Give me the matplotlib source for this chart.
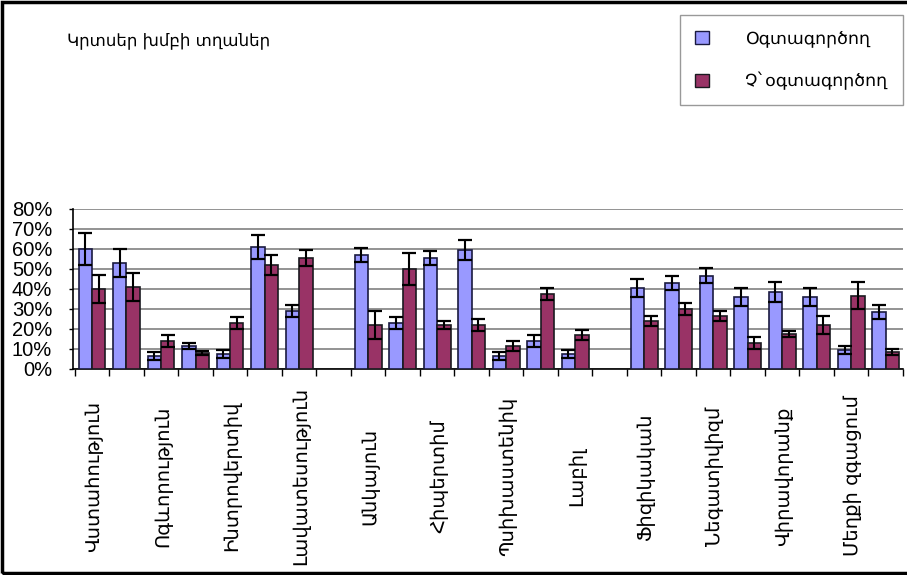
import numpy as np
import matplotlib
matplotlib.use("Agg")
import matplotlib.pyplot as plt
from matplotlib.patches import Rectangle, Patch
from matplotlib.transforms import blended_transform_factory

# data (percent), 24 category slots, nan = empty slot between blocks
users = [60, 53, 6.5, 11.5, 7.5, 61, 29, np.nan,
         57, 23, 55.5, 59.7, 6.3, 13.8, 7.7, np.nan,
         40.5, 43, 46.7, 36, 38.5, 36, 9.7, 28.5]
users_err = [8, 7, 2, 1.5, 2, 6, 3, np.nan,
             3.5, 3, 3.5, 5, 2, 3, 2, np.nan,
             4.5, 3.7, 3.8, 4.5, 4.8, 4.5, 2, 3.7]
nonusers = [40, 41, 13.8, 8, 23, 52, 55.5, np.nan,
            22, 50, 22, 22, 11.3, 37.7, 16.8, np.nan,
            24, 30, 26.5, 13, 17.5, 22, 36.7, 8.5]
nonusers_err = [7, 7, 3, 1, 3, 5, 4, np.nan,
                7, 8, 2, 3, 2.5, 3, 2.5, np.nan,
                2.5, 3, 2.7, 3, 1.7, 4.5, 6.7, 1.7]

# only every second slot carries a label in the chart
labels = ["Վստահություն", "Ոգևորություն", "Ինտրովերտիվ", "Լավատեսություն",
          "Անկայուն", "Հիպերտիմ", "Պսիխաստենիկ", "Լաբիլ",
          "Ֆիզիկական", "Նեգատիվիզմ", "Վիրավորանք", "Մեղքի զգացում"]
yticks = [0, 10, 20, 30, 40, 50, 60, 70, 80]

title = "Կրտսեր խմբի տղաներ"
series_names = ["Օգտագործող", "Չ`օգտագործող"]

c_blue = "#9999ff"
c_red = "#993366"

fig = plt.figure(figsize=(9.07, 5.75), dpi=100)
ax = fig.add_axes([73 / 907, 1 - 369 / 575, 830 / 907, 160 / 575])

x = np.arange(len(users))
w = 0.39
errkw = dict(ecolor="black", elinewidth=1.5, capsize=4.7, capthick=1.6)
ax.bar(x - w / 2, users, w, yerr=users_err, color=c_blue, edgecolor="#1a1a40",
       linewidth=1.2, error_kw=errkw, zorder=3)
ax.bar(x + w / 2, nonusers, w, yerr=nonusers_err, color=c_red, edgecolor="#1a1a20",
       linewidth=1.2, error_kw=errkw, zorder=3)

ax.set_xlim(-0.55, len(users) - 0.5)
ax.set_ylim(0, 80)
ax.set_yticks(yticks)
ax.set_yticklabels([f"{v}%" for v in yticks], fontsize=14.5, family="Liberation Sans")
ax.yaxis.grid(True, color="#808080", linewidth=1.2, zorder=0)
ax.set_axisbelow(True)
ax.set_xticks(np.arange(len(users) + 1) - 0.5)
ax.set_xticklabels([])
ax.tick_params(axis="x", length=5, width=1, direction="out")
ax.tick_params(axis="y", length=3, width=1, direction="out", pad=12)
for s in ["top", "right"]:
    ax.spines[s].set_visible(False)
ax.spines["left"].set_linewidth(1.2)
ax.spines["bottom"].set_linewidth(1.2)

trans = blended_transform_factory(ax.transData, fig.transFigure)
for i, lab in enumerate(labels):
    ax.text(2 * i + 0.05, 1 - 476 / 575, lab, transform=trans, rotation=90,
            ha="center", va="center", fontsize=14, family="DejaVu Sans")

fig.text(67 / 907, 1 - 40 / 575, title, fontsize=12, va="center", ha="left",
         family="DejaVu Sans")

handles = [Patch(facecolor=c_blue, edgecolor="#1a1a40"),
           Patch(facecolor=c_red, edgecolor="#1a1a20")]
leg = fig.legend(handles, series_names, loc="upper left",
                 bbox_to_anchor=(680 / 907, 1 - 15 / 575), fontsize=12.5,
                 frameon=True, fancybox=False, edgecolor="#808080",
                 handlelength=0.8, handleheight=0.8, handletextpad=2.1,
                 labelspacing=1.4, borderpad=0.85, borderaxespad=0)
leg.get_frame().set_linewidth(1.0)

# outer frame of the picture
fig.add_artist(Rectangle((0.002, 0.004), 1.2, 0.992, transform=fig.transFigure,
                         fill=False, edgecolor="black", linewidth=2.5))

fig.savefig("out.png", dpi=100)
